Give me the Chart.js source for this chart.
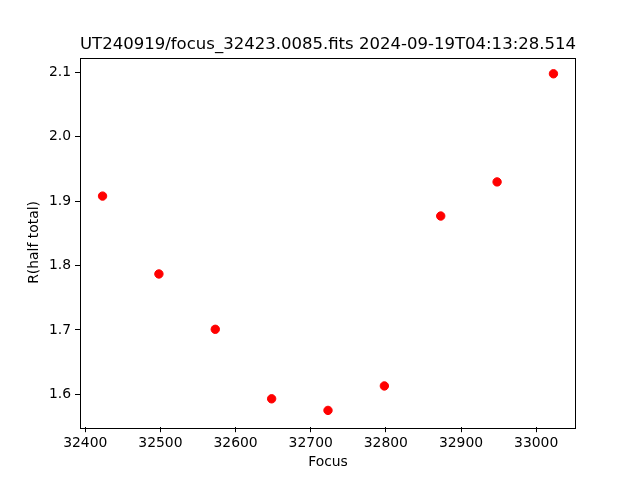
<!DOCTYPE html>
<html>
<script src="https://cdn.jsdelivr.net/npm/chart.js@4.4.0/dist/chart.umd.min.js"></script>
<body style="margin:0">
<canvas id="myChart" width="640" height="480"></canvas>

<script>
    const focusValues = [32423, 32498, 32573, 32648, 32723, 32798, 32873, 32948, 33023];
    const radiusValues = [1.908, 1.787, 1.701, 1.593, 1.575, 1.613, 1.877, 1.930, 2.098];
    const xTicks = [32400, 32500, 32600, 32700, 32800, 32900, 33000];
    const yTicks = [1.6, 1.7, 1.8, 1.9, 2.0, 2.1];
    const titleText = "UT240919/focus_32423.0085.fits 2024-09-19T04:13:28.514";

    Chart.defaults.color = "#000";
    Chart.defaults.font.family = "DejaVu Sans";

    // axes frame on all four sides, like matplotlib
    const frame = {
        id: "frame",
        afterDraw(chart) {
            const a = chart.chartArea;
            const ctx = chart.ctx;
            ctx.save();
            ctx.strokeStyle = "#000";
            ctx.lineWidth = 1;
            ctx.strokeRect(Math.round(a.left) + 0.5, Math.round(a.top) + 0.5,
                Math.round(a.right - a.left) - 1, Math.round(a.bottom - a.top));
            ctx.restore();
        }
    };

    const myChart = new Chart("myChart", {
        type: "scatter",
        data: {
            datasets: [{
                data: focusValues.map((f, i) => ({x: f, y: radiusValues[i]})),
                backgroundColor: "#ff0000",
                borderColor: "#ff0000",
                pointRadius: 4.2,
                pointHoverRadius: 4.2
            }]
        },
        options: {
            responsive: false,
            animation: false,
            layout: {padding: {left: 0, right: 64, top: 0, bottom: 0}},
            plugins: {
                legend: {display: false},
                tooltip: {enabled: false},
                title: {
                    display: true,
                    fullSize: false,
                    text: titleText,
                    font: {size: 16.7, weight: "normal"},
                    padding: {top: 35, bottom: 2.6}
                }
            },
            scales: {
                x: {
                    type: "linear",
                    min: 32393,
                    max: 33053,
                    afterBuildTicks: (s) => { s.ticks = xTicks.map(v => ({value: v})); },
                    afterFit: (s) => { s.height = 52.8; },
                    grid: {display: true, drawOnChartArea: false, drawTicks: true, tickLength: 5, color: "#000"},
                    border: {display: false},
                    ticks: {font: {size: 13.9}, padding: 3, maxRotation: 0, callback: v => String(v)},
                    title: {display: true, text: "Focus", font: {size: 13.9}, padding: {top: 0, bottom: 9}}
                },
                y: {
                    type: "linear",
                    min: 1.5489,
                    max: 2.1231,
                    afterBuildTicks: (s) => { s.ticks = yTicks.map(v => ({value: v})); },
                    afterFit: (s) => { s.width = 80; },
                    grid: {display: true, drawOnChartArea: false, drawTicks: true, tickLength: 5, color: "#000"},
                    border: {display: false},
                    ticks: {font: {size: 13.9}, padding: 4, callback: v => v.toFixed(1)},
                    title: {display: true, text: "R(half total)", font: {size: 13.9}, padding: {top: 26, bottom: 0}}
                }
            }
        },
        plugins: [frame]
    });
</script>
</body>
</html>
